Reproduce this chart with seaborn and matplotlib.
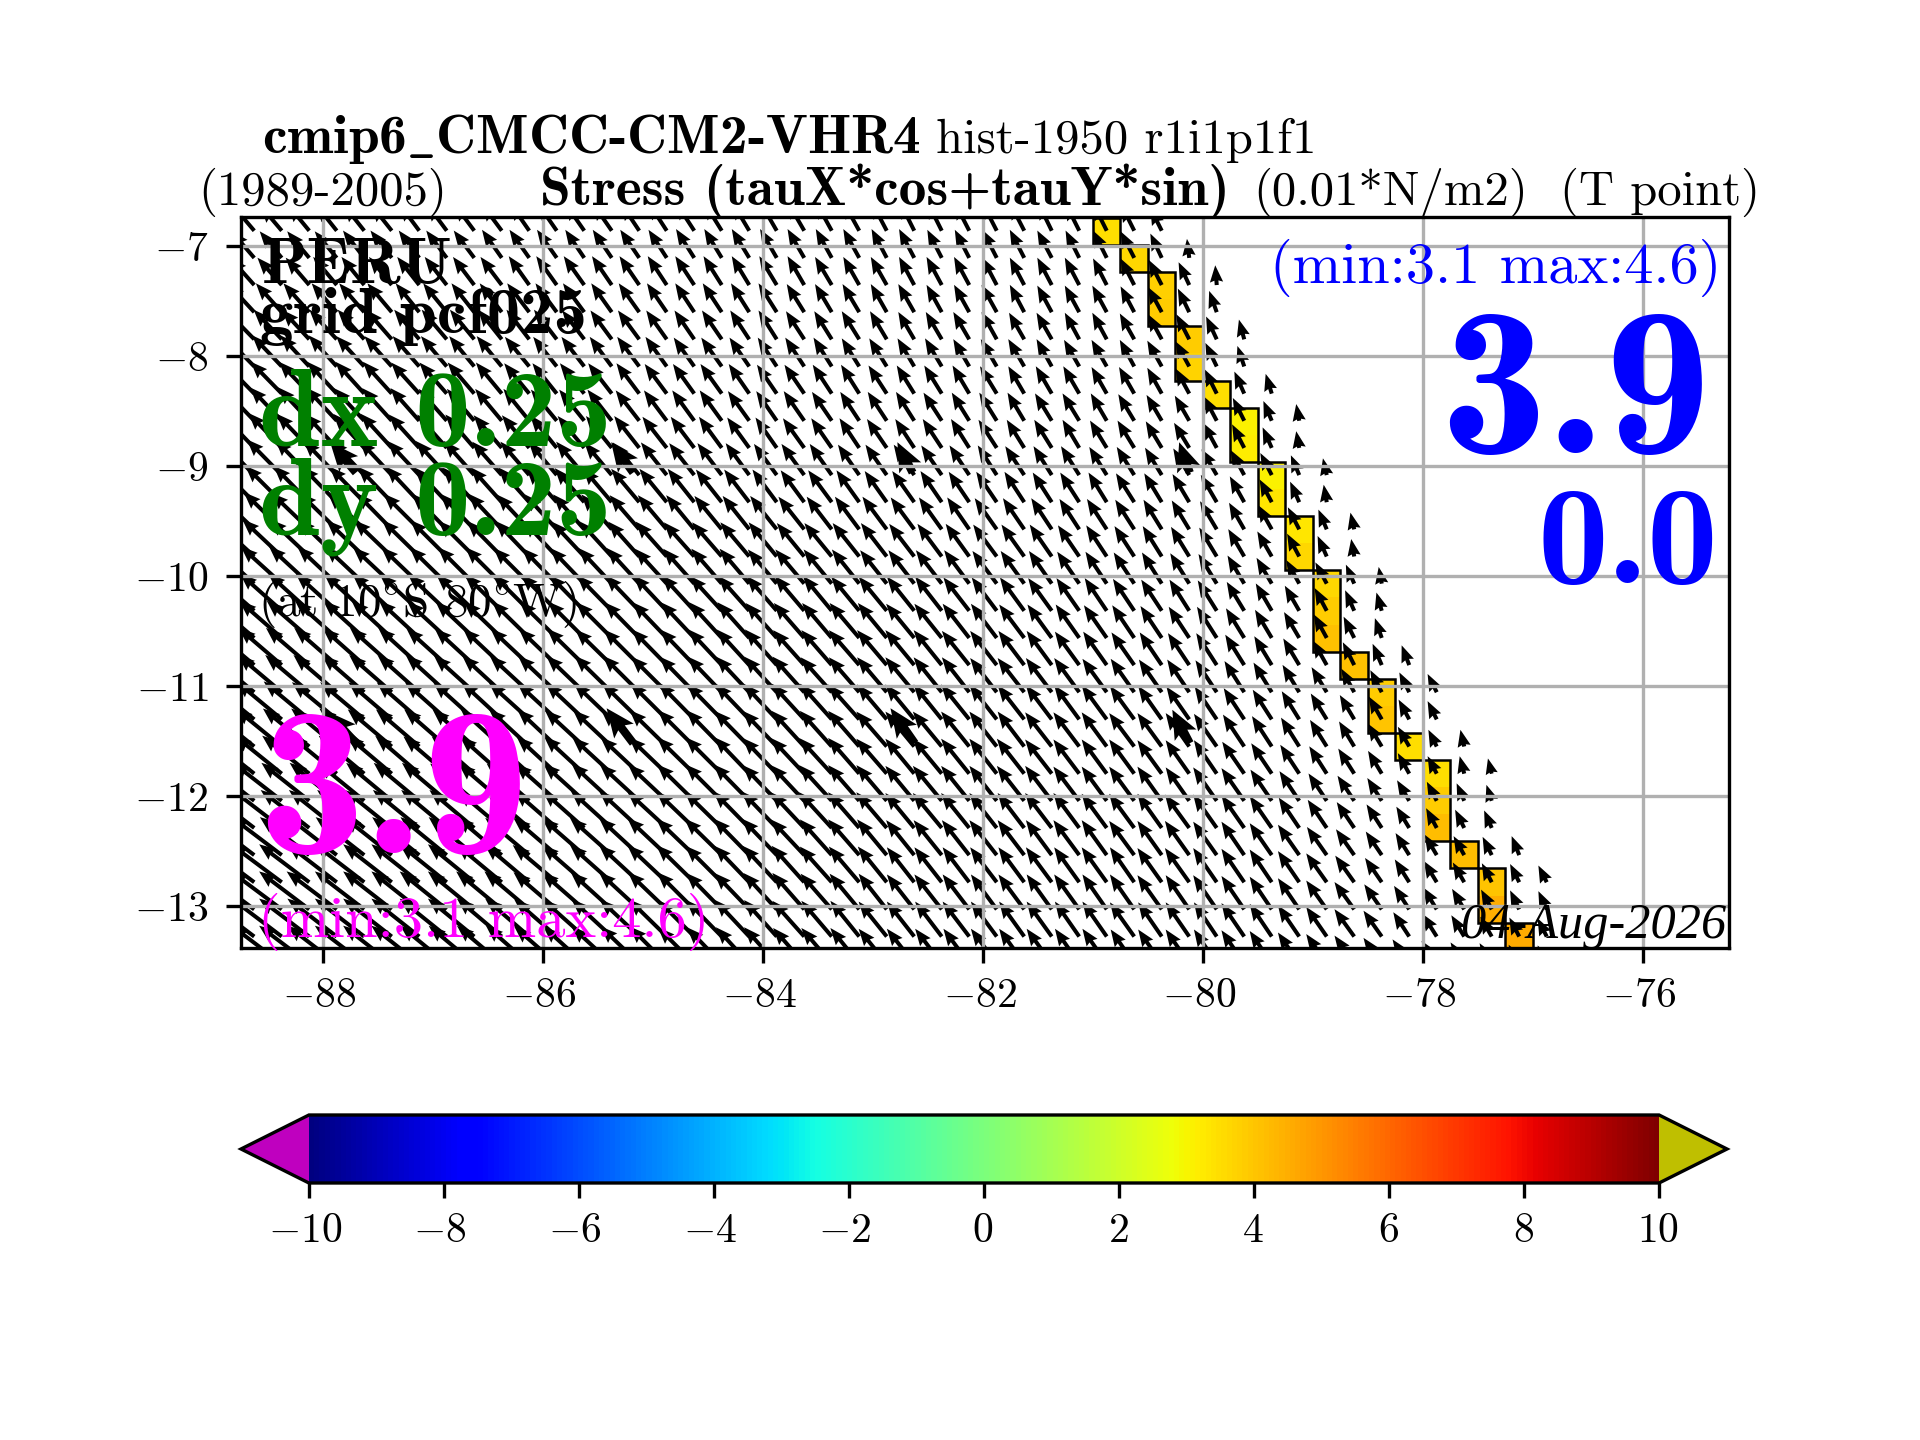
import numpy as np
import matplotlib
matplotlib.use("Agg")
import matplotlib.pyplot as plt
from matplotlib.transforms import ScaledTranslation
import seaborn as sns

# wind stress arrows, one list per row, north to south, in 0.1 * (0.01 N/m2)
# westward component (sign flipped at plot time); row length stops at the coast
tau_west = [
    [28,28,28,27,27,27,26,26,26,26,25,25,25,25,24,24,24,23,22,22,22,21,21,20,19,19,19,19,19,18,18,18,17,15],
    [30,29,29,29,28,28,27,27,27,26,26,26,25,25,25,24,24,23,23,22,22,21,21,20,20,19,19,19,19,19,18,18,18,15,3],
    [32,32,31,31,30,30,29,29,28,28,27,27,27,26,26,25,25,24,23,23,22,22,21,21,20,20,20,19,19,19,19,18,18,17,14,2],
    [35,34,34,33,33,32,31,31,30,29,29,28,28,27,27,26,25,25,24,24,23,22,22,21,21,20,20,20,19,19,19,19,18,18,15,10],
    [38,37,36,36,35,34,33,33,32,31,30,30,29,28,28,27,26,26,25,24,24,23,23,22,21,21,21,20,20,20,19,19,19,18,17,14,7],
    [40,39,38,37,37,36,35,34,33,33,32,31,30,29,29,28,27,27,26,25,25,24,23,23,22,22,21,21,21,20,20,20,19,19,18,15,9],
    [42,41,40,39,38,38,37,36,35,34,33,32,32,31,30,29,28,28,27,26,26,25,24,24,23,23,22,22,21,21,21,20,20,19,18,16,13,8],
    [43,42,41,41,40,39,38,37,36,35,34,34,33,32,31,30,29,29,28,27,27,26,25,25,24,24,23,23,22,22,22,21,21,20,19,17,15,11,4],
    [44,44,43,42,41,41,40,39,38,37,36,35,35,34,33,32,31,30,29,28,28,27,26,26,25,25,24,24,23,23,22,22,22,21,20,18,16,12,4],
    [46,46,45,44,44,43,42,41,40,39,38,37,37,36,35,34,33,32,31,30,30,29,28,28,27,27,26,25,25,24,24,23,23,22,21,20,18,15,11,5],
    [48,48,47,46,46,45,44,43,42,41,41,40,39,38,37,36,35,34,33,32,31,31,30,29,29,28,27,27,26,25,25,24,24,23,22,21,19,16,12,4],
    [51,50,50,49,48,47,47,46,45,44,43,42,41,40,39,38,37,36,35,35,34,33,32,32,31,30,29,29,28,27,26,26,25,24,23,22,20,18,15,11,5],
    [53,52,52,51,50,50,49,48,47,46,45,44,43,42,41,41,40,39,38,37,36,36,35,34,33,32,31,31,30,29,28,27,26,25,24,23,21,19,16,12,4],
    [54,54,53,52,52,51,50,49,48,48,47,46,45,44,43,42,41,40,39,38,38,37,36,35,34,34,33,32,31,30,29,28,27,26,25,24,22,20,17,15,11,4],
    [56,55,54,54,53,52,52,51,50,49,48,47,46,46,45,44,43,42,41,40,39,38,37,37,36,35,34,33,32,31,30,29,28,27,26,25,23,21,19,16,12,7],
    [57,56,56,55,54,53,53,52,51,50,49,49,48,47,46,45,44,43,42,41,40,39,39,38,37,36,35,34,33,32,31,30,29,28,27,26,24,22,20,17,14,9],
    [58,57,57,56,55,55,54,53,52,51,51,50,49,48,47,46,45,44,43,42,41,40,40,39,38,37,36,35,34,33,32,31,30,29,28,27,25,23,21,18,15,12,10],
    [59,58,58,57,56,56,55,54,53,52,52,51,50,49,48,47,46,45,44,43,42,41,40,39,38,37,36,35,35,34,33,32,31,30,29,28,26,24,22,20,17,15,13,12],
    [61,60,60,59,58,57,56,55,54,53,53,52,51,50,49,48,47,46,45,44,43,42,41,39,38,37,37,36,35,34,33,33,32,31,30,29,27,25,23,21,19,17,14,12],
    [62,61,61,60,59,58,57,56,55,54,53,52,52,51,50,49,48,47,46,45,43,42,41,40,38,38,37,36,35,35,34,33,33,32,31,30,28,26,24,22,20,18,15,11,5],
    [63,62,62,61,60,59,58,57,56,55,54,53,53,52,51,50,49,48,46,45,44,43,41,40,38,38,37,36,36,35,34,33,33,32,31,30,29,27,25,23,21,18,15,12,6,5],
    [64,64,63,62,61,60,60,59,58,57,56,55,54,53,52,51,49,48,47,45,44,43,41,40,38,38,37,36,36,35,34,33,33,32,31,31,30,28,26,24,22,19,16,13,10,7],
    [65,65,64,63,62,62,61,60,59,58,57,56,55,54,53,52,50,49,47,46,44,43,41,40,38,38,37,36,35,35,34,33,33,32,32,31,30,29,27,25,23,20,17,14,12,10],
    [66,66,65,64,64,63,62,61,60,59,58,57,56,55,53,52,50,49,47,46,44,42,41,39,37,37,36,36,35,34,34,33,33,32,32,31,30,29,28,26,24,21,18,16,14,12,10],
    [67,67,66,65,65,64,63,62,61,60,59,58,56,55,53,52,50,48,46,45,43,42,40,38,36,36,35,35,34,34,33,33,32,32,32,31,30,29,28,27,25,22,19,17,15,13,12,11],
    [67,67,66,66,65,64,63,62,61,60,59,57,56,54,53,51,49,47,46,44,42,41,39,37,36,36,35,34,34,33,33,32,32,32,31,31,30,29,28,27,26,23,20,18,16,14,12,11],
    [66,66,66,65,65,64,63,62,61,59,58,56,55,53,52,50,48,47,45,43,42,40,38,37,36,35,35,34,33,33,32,32,32,31,31,30,30,29,28,27,26,24,21,19,17,15,13,12],
    [66,66,66,65,65,64,63,61,60,59,57,56,54,53,51,49,48,46,44,43,41,40,38,37,36,35,34,34,33,33,32,32,31,31,31,30,30,29,28,27,26,24,22,20,18,16,14,12],
]
# northward component, same layout
tau_north = [
    [33,33,34,34,34,34,35,35,35,35,36,36,36,36,36,37,37,37,37,38,38,38,38,38,38,38,37,37,37,37,36,36,34,30],
    [35,35,35,35,36,36,36,36,36,37,37,37,37,37,37,37,38,38,38,38,38,38,38,38,38,37,37,37,37,36,36,36,35,32,25],
    [36,36,36,37,37,37,37,37,37,37,38,38,38,38,38,38,38,38,38,38,38,37,37,37,37,37,37,36,36,36,36,35,35,33,30,26],
    [38,38,38,38,38,38,38,38,38,38,38,38,38,38,38,38,38,38,38,38,37,37,37,37,37,36,36,36,36,35,35,35,34,33,31,28],
    [39,39,39,39,39,39,39,39,39,39,39,39,38,38,38,38,38,38,38,38,37,37,37,37,36,36,36,36,35,35,35,35,34,33,33,30,26],
    [41,41,41,41,40,40,40,40,40,40,39,39,39,39,39,39,38,38,38,38,38,38,37,37,37,37,36,36,36,36,35,35,35,34,33,31,27],
    [43,42,42,42,42,42,41,41,41,41,40,40,40,40,40,39,39,39,39,38,38,38,38,37,37,37,37,36,36,36,36,35,35,34,33,32,29,26],
    [45,44,44,44,43,43,43,42,42,42,42,41,41,41,40,40,40,40,39,39,39,38,38,38,38,37,37,37,37,36,36,36,35,34,33,32,30,26,22],
    [46,46,45,45,45,45,44,44,44,43,43,43,42,42,42,41,41,41,40,40,39,39,39,38,38,38,38,37,37,37,37,36,36,35,33,33,31,27,22],
    [47,47,47,46,46,46,45,45,45,44,44,44,44,43,43,43,42,42,42,41,41,41,40,40,40,39,39,39,38,38,38,37,37,36,35,34,33,29,26,22],
    [48,48,48,47,47,47,47,46,46,46,46,45,45,45,44,44,44,43,43,43,42,42,42,41,41,41,40,40,40,39,39,39,38,38,37,36,34,30,27,23],
    [49,49,48,48,48,48,47,47,47,47,46,46,46,46,45,45,45,44,44,44,43,43,43,43,42,42,42,41,41,41,40,40,39,39,38,37,35,32,29,26,22],
    [49,49,49,49,48,48,48,48,47,47,47,47,46,46,46,46,45,45,45,45,44,44,44,44,43,43,43,42,42,42,41,41,40,40,39,38,36,33,30,27,23],
    [49,49,49,49,49,48,48,48,48,48,47,47,47,47,47,46,46,46,46,45,45,45,45,44,44,44,44,43,43,43,42,42,41,41,40,39,37,34,31,28,25,22],
    [49,49,49,49,49,49,48,48,48,48,48,48,47,47,47,47,47,46,46,46,46,46,45,45,45,45,44,44,44,43,43,43,42,41,41,40,38,36,33,30,27,24],
    [49,49,49,49,49,49,49,48,48,48,48,48,48,47,47,47,47,47,47,46,46,46,46,46,45,45,45,45,44,44,44,43,43,42,41,41,39,37,34,31,28,26],
    [49,49,49,49,49,49,49,48,48,48,48,48,48,47,47,47,47,47,47,47,46,46,46,46,46,46,45,45,45,45,44,44,43,43,42,42,40,38,35,32,30,28,26],
    [49,49,49,49,49,49,49,49,48,48,48,48,48,48,48,47,47,47,47,47,47,46,46,46,46,46,46,45,45,45,45,44,44,43,43,42,41,39,36,33,31,29,26,24],
    [50,50,50,49,49,49,49,49,49,49,48,48,48,48,48,48,48,47,47,47,47,47,46,46,46,46,46,46,45,45,45,45,44,44,43,43,41,39,37,34,32,30,26,24],
    [50,50,50,50,50,49,49,49,49,49,49,49,48,48,48,48,48,48,47,47,47,47,47,46,46,46,46,46,46,45,45,45,44,44,44,43,42,40,38,35,33,30,26,22,22],
    [50,50,50,50,50,50,50,49,49,49,49,49,49,48,48,48,48,48,48,47,47,47,47,46,46,46,46,46,46,45,45,45,45,44,44,44,42,40,38,36,33,30,27,23,23,20],
    [50,50,50,50,50,50,50,50,49,49,49,49,49,49,48,48,48,48,48,47,47,47,47,47,46,46,46,46,46,46,45,45,45,45,44,44,43,41,39,36,33,30,27,25,23,21],
    [50,50,50,50,50,50,50,50,50,49,49,49,49,49,49,48,48,48,48,48,47,47,47,47,46,46,46,46,46,46,46,45,45,45,44,44,43,42,40,37,34,31,28,26,24,23],
    [50,50,50,50,50,50,50,50,50,50,49,49,49,49,49,49,48,48,48,48,47,47,47,47,46,46,46,46,46,46,46,46,45,45,45,44,44,42,40,37,34,31,29,27,25,24,25],
    [50,50,50,50,50,50,50,50,50,50,50,49,49,49,49,49,49,48,48,48,48,47,47,47,46,46,46,46,46,46,46,46,46,45,45,45,44,43,41,38,35,32,30,28,26,25,24,22],
    [50,50,50,50,50,50,50,50,50,50,50,49,49,49,49,49,49,48,48,48,48,47,47,47,46,46,46,46,46,46,46,46,46,45,45,45,44,43,41,38,36,33,31,29,27,26,25,24],
    [50,50,50,50,50,50,50,50,50,50,50,49,49,49,49,49,48,48,48,48,47,47,47,46,46,46,46,46,46,46,46,46,45,45,45,45,44,43,41,39,36,34,32,30,28,26,25,24],
    [50,50,50,50,50,50,50,50,50,50,50,49,49,49,49,49,48,48,48,48,47,47,47,46,46,46,46,46,46,46,46,46,45,45,45,45,44,43,41,39,37,34,32,30,28,27,25,24],
]
# the few fat arrows that sit on the 2.5 degree lattice
fat_lon = [-87.70, -85.18, -82.64, -80.12, -87.70, -85.18, -82.62, -80.12]
fat_lat = [-9.06, -9.06, -9.06, -9.06, -11.52, -11.52, -11.52, -11.52]
fat_west = [34, 29, 20, 14, 38, 35, 32, 23]
fat_north = [40, 40, 40, 40, 42, 46, 46, 44]

# coastal cells of the scalar field: west edge, first grid row, values going south
coast_lon = [-81.0, -80.75, -80.5, -80.25, -80.0, -79.75, -79.5, -79.25,
             -79.0, -78.75, -78.5, -78.25, -78.0, -77.75, -77.5, -77.25]
coast_row = [0, 1, 2, 4, 6, 7, 9, 11, 13, 16, 17, 19, 20, 23, 24, 26]
coast_val = [[3.5], [3.6], [3.8, 3.9], [3.9, 3.7], [3.5], [3.1, 3.2], [3.1, 3.3], [3.3, 3.6],
             [3.6, 3.9, 4.1], [4.1], [3.9, 4.0], [3.5], [3.5, 3.9, 4.2], [4.2], [4.0, 4.5], [4.6]]

cbar_ticks = [-10, -8, -6, -4, -2, 0, 2, 4, 6, 8, 10]
lon_ticks = [-88, -86, -84, -82, -80, -78, -76]
lat_ticks = [-7, -8, -9, -10, -11, -12, -13]

W, H = 1920, 1440
RM = ['cmr10', 'DejaVu Serif']
BF = ['cmb10', 'DejaVu Serif']

sns.set_style("ticks", rc={"axes.edgecolor": "black", "xtick.color": "black", "ytick.color": "black",
                           "text.color": "black", "xtick.direction": "out", "ytick.direction": "out"})
plt.rcParams['font.family'] = RM
plt.rcParams['mathtext.fontset'] = 'cm'
plt.rcParams['axes.formatter.use_mathtext'] = True
plt.rcParams['axes.linewidth'] = 0.8
plt.rcParams['xtick.major.width'] = 0.8
plt.rcParams['ytick.major.width'] = 0.8
plt.rcParams['xtick.major.size'] = 3.5
plt.rcParams['ytick.major.size'] = 3.5

fig = plt.figure(figsize=(6.4, 4.8), dpi=300)
ax = fig.add_axes([240.5 / W, (H - 948) / H, 1488.5 / W, 731 / H])

# grid of the model: 0.25 deg in lon, a bit less in lat
lon_edges = -88.75 + 0.25 * np.arange(49)
lat_edges = -6.745 - 0.2464 * np.arange(29)
field = np.full((28, 48), np.nan)
for lon0, row0, vals in zip(coast_lon, coast_row, coast_val):
    col = int(round((lon0 + 88.75) / 0.25))
    field[row0:row0 + len(vals), col] = vals

jet = plt.get_cmap("jet").copy()
jet.set_under((0.75, 0, 0.75))
jet.set_over((0.75, 0.75, 0))
mesh = ax.pcolormesh(lon_edges, lat_edges, np.ma.masked_invalid(field), cmap=jet, vmin=-10, vmax=10, zorder=1)

# black outline round each stack of cells
for lon0, row0, vals in zip(coast_lon, coast_row, coast_val):
    ax.bar(lon0, lat_edges[row0 + len(vals)] - lat_edges[row0], bottom=lat_edges[row0], width=0.25,
           align='edge', fill=False, edgecolor='black', linewidth=0.6, zorder=1.2)

lons, lats, us, vs = [], [], [], []
for r, (west, north) in enumerate(zip(tau_west, tau_north)):
    for c, (a, b) in enumerate(zip(west, north)):
        lons.append(-88.625 + 0.25 * c)
        lats.append(-6.861 - 0.2468 * r)
        us.append(-a / 10)
        vs.append(b / 10)

ax.quiver(lons, lats, us, vs, angles='xy', scale_units='width', scale=196, width=0.0027,
          headwidth=3.3, headlength=4.2, headaxislength=3.8, color='black', zorder=1.5)
ax.quiver(fat_lon, fat_lat, -np.array(fat_west) / 10, np.array(fat_north) / 10, angles='xy',
          scale_units='width', scale=196, width=0.0055, headwidth=3, headlength=3.5, headaxislength=3,
          color='black', zorder=1.5)

ax.set_xlim(-88.75, -75.218)
ax.set_ylim(-13.382, -6.736)
ax.set_xticks(lon_ticks)
ax.set_yticks(lat_ticks)
ax.tick_params(axis='y', pad=4.2)
ax.grid(True, color='#b0b0b0', linewidth=0.8, zorder=2)
ax.set_axisbelow(False)
for spine in ax.spines.values():
    spine.set_zorder(5)


def label(x, y, s, size, color='black', family=RM, ha='left', style='normal'):
    # x, y in pixels from the top left of the figure, y is the baseline
    fig.text(x / W, 1 - y / H, s, fontsize=size, color=color, family=family, ha=ha, va='baseline', style=style)


label(262, 153, 'cmip6$\\_$CMCC-CM2-VHR4', 13.3, family=BF)
label(936, 153, 'hist-1950 r1i1p1f1', 11.7)
label(198, 205, '(1989-2005)', 11.7)
label(540, 205, 'Stress (tauX*cos+tauY*sin)', 13.3, family=BF)
label(1253, 205, '(0.01*N/m2)', 11.7)
label(1560, 205, '(T point)', 11.7)

label(262, 283, 'PERU', 16, family=BF)
label(260, 333, 'grid pcf025', 16, family=BF)
label(259, 446, 'dx 0.25', 26.5, color='green', family=BF)
label(259, 534, 'dy 0.25', 26.5, color='green', family=BF)
label(258, 616, '(at 10$^{\\circ}$S 80$^{\\circ}$W)', 11.3)

label(1721, 283, '(min:3.1 max:4.6)', 14, color='blue', ha='right')
label(1711, 453, '3.9', 51, color='blue', family=BF, ha='right')
label(1718.5, 583, '0.0', 34, color='blue', family=BF, ha='right')

label(258, 853, '3.9', 51, color='magenta', family=BF)
label(258, 937, '(min:3.1 max:4.6)', 14, color='magenta')
label(1726, 938, '04-Aug-2026', 12.1, family=['Liberation Serif', 'DejaVu Serif'], ha='right', style='italic')

cax = fig.add_axes([241 / W, (H - 1183) / H, 1486 / W, 68 / H])
cb = fig.colorbar(mesh, cax=cax, orientation='horizontal', extend='both', extendfrac=0.0503, ticks=cbar_ticks)
cb.outline.set_linewidth(0.8)
cb.minorticks_off()

# tick labels sit a little to the left in the reference
fig.canvas.draw()
for lab in ax.get_xticklabels():
    lab.set_transform(lab.get_transform() + ScaledTranslation(-3.5 / 300, 0, fig.dpi_scale_trans))
for tick_val, lab in zip(cbar_ticks, cax.get_xticklabels()):
    dx = -4 if tick_val < 0 else -1
    lab.set_transform(lab.get_transform() + ScaledTranslation(dx / 300, 0, fig.dpi_scale_trans))

fig.savefig('out.png', dpi=300)
